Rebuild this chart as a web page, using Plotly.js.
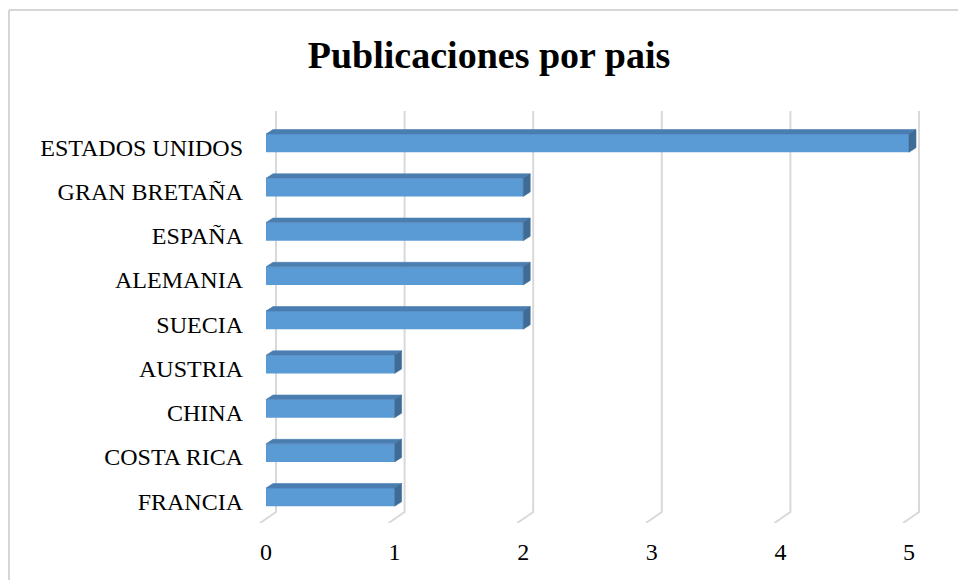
<!DOCTYPE html>
<html>
<head>
<meta charset="utf-8">
<script src="https://cdn.plot.ly/plotly-3.0.1.min.js"></script>
<style>html,body{margin:0;padding:0;background:#fff;}#chart{width:958px;height:580px;}</style>
</head>
<body>
<div id="chart"></div>
<script>
// ---- data ----
const categories = ['ESTADOS UNIDOS','GRAN BRETAÑA','ESPAÑA','ALEMANIA','SUECIA','AUSTRIA','CHINA','COSTA RICA','FRANCIA'];
const values = [5, 2, 2, 2, 2, 1, 1, 1, 1];
const xTicks = [0, 1, 2, 3, 4, 5];
const titleText = 'Publicaciones por pais';

// ---- geometry helpers (pixels -> paper) ----
const W = 958, H = 580;
const px = v => v / W;
const py = v => 1 - v / H;
const unitPx = 128.6;           // pixels per value unit
const catPx = 44.25;            // pixels per category
const depthX = 7, depthY = 4.5; // 3D depth of bars in px
const barW = 0.41;

const idx = categories.map((c, i) => i);
const dxd = depthX / unitPx;
const dyd = depthY / catPx;

// top faces and side faces of bars, computed from values
const topX = [], topY = [], sideX = [], sideY = [];
values.forEach((v, i) => {
  const yt = i - barW / 2, yb = i + barW / 2;
  topX.push(0, v, v + dxd, dxd, 0, null);
  topY.push(yt, yt, yt - dyd, yt - dyd, yt, null);
  sideX.push(v, v + dxd, v + dxd, v, v, null);
  sideY.push(yt, yt - dyd, yb - dyd, yb, yt, null);
});

// wall + floor gridlines (wall subplot: y pixel 523 -> 0, 111 -> 1)
const wallTop = 111, wallBottom = 512, floorFront = 523, floorDx = 16;
const wallLeft = 276;
const floorFrac = (floorFront - wallBottom) / (floorFront - wallTop);
const gridX = [], gridY = [];
xTicks.forEach(v => {
  gridX.push(v - floorDx / unitPx, v, v, null);
  gridY.push(0, floorFrac, 1, null);
});
const x3Lo = -24 / unitPx, x3Hi = 5 + 6 / unitPx;

const font = 'Liberation Serif, Times New Roman, serif';

const traces = [
  {
    type: 'scatter', mode: 'lines', x: gridX, y: gridY,
    xaxis: 'x', yaxis: 'y',
    line: {color: '#d9d9d9', width: 2}, hoverinfo: 'skip', showlegend: false
  },
  {
    type: 'bar', orientation: 'h', x: values, y: idx, width: barW,
    xaxis: 'x2', yaxis: 'y2',
    marker: {color: '#5b9bd5', line: {width: 0}},
    hoverinfo: 'x+y'
  },
  {
    type: 'scatter', mode: 'lines', x: topX, y: topY, fill: 'toself',
    xaxis: 'x2', yaxis: 'y2',
    fillcolor: '#4a7db0', line: {color: '#4a7db0', width: 0.6},
    hoverinfo: 'skip', showlegend: false
  },
  {
    type: 'scatter', mode: 'lines', x: sideX, y: sideY, fill: 'toself',
    xaxis: 'x2', yaxis: 'y2',
    fillcolor: '#3f6c96', line: {color: '#3f6c96', width: 0.6},
    hoverinfo: 'skip', showlegend: false
  }
];

// chart-area border (only top and left edges fall inside the picture)
const shapes = [
  {type: 'line', xref: 'paper', yref: 'paper', x0: px(9), x1: 1, y0: py(10), y1: py(10),
   line: {color: '#d6d6d6', width: 2}},
  {type: 'line', xref: 'paper', yref: 'paper', x0: px(9), x1: px(9), y0: py(10), y1: 0,
   line: {color: '#d6d6d6', width: 2}}
];

const layout = {
  width: W, height: H,
  margin: {l: 0, r: 0, t: 0, b: 0},
  paper_bgcolor: '#ffffff',
  plot_bgcolor: 'rgba(0,0,0,0)',
  showlegend: false,
  title: {
    text: '<b>' + titleText + '</b>',
    font: {family: font, size: 38, color: '#000'},
    x: px(489), xanchor: 'center', y: py(55), yanchor: 'middle'
  },
  // back wall and floor
  xaxis: {
    domain: [px(wallLeft + x3Lo * unitPx), px(wallLeft + x3Hi * unitPx)], range: [x3Lo, x3Hi],
    showgrid: false, showticklabels: false, ticks: '',
    zeroline: false, showline: false, anchor: 'y', fixedrange: true
  },
  yaxis: {
    domain: [py(floorFront), py(wallTop)], range: [0, 1],
    showgrid: false, showticklabels: false, zeroline: false, showline: false,
    anchor: 'x', fixedrange: true
  },
  // bars
  xaxis2: {
    domain: [px(266), px(266 + unitPx * 5.1)], range: [0, 5.1],
    tickvals: xTicks, ticktext: xTicks.map(String), ticks: '',
    showgrid: false, zeroline: false, showline: false,
    tickfont: {family: font, size: 24, color: '#000'},
    ticklabelstandoff: 16,
    anchor: 'y2', fixedrange: true
  },
  yaxis2: {
    domain: [py(121 + catPx * 9), py(121)], range: [8.5, -0.5],
    tickvals: idx, ticktext: categories, ticks: '',
    showgrid: false, zeroline: false, showline: false,
    tickfont: {family: font, size: 24, color: '#000'},
    ticklabelstandoff: 22, ticklabelshift: -4,
    anchor: 'x2', fixedrange: true
  },
  shapes: shapes
};

Plotly.newPlot('chart', traces, layout, {displayModeBar: false, staticPlot: true});
</script>
</body>
</html>
